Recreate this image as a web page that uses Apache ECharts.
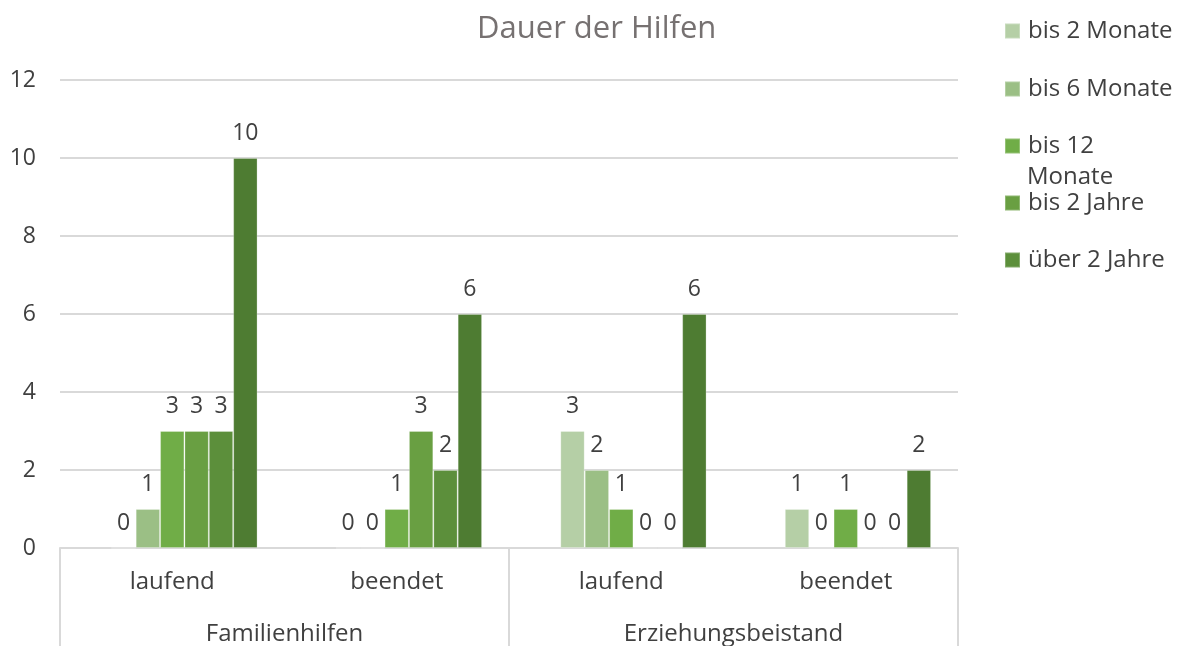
<!DOCTYPE html>
<html>
<head>
<meta charset="utf-8">
<script src="https://cdn.jsdelivr.net/npm/echarts@6/dist/echarts.min.js"></script>
<style>
  html, body { margin: 0; padding: 0; background: #fff; }
  #chart { width: 1183px; height: 646px; }
</style>
</head>
<body>
<div id="chart"></div>
<script>
const categories = ['laufend', 'beendet', 'laufend', 'beendet'];
const groups = ['Familienhilfen', 'Erziehungsbeistand'];
const yTicks = { min: 0, max: 12, interval: 2 };

const leer = ['-', '-', '-', '-'];
const bis2Monate = [0, 0, 3, 1];
const bis6Monate = [1, 0, 2, 0];
const bis12Monate = [3, 1, 1, 1];
const bis2Jahre = [3, 3, 0, 0];
const ueber2Jahre = [3, 2, 0, 0];
const weitere = [10, 6, 6, 2];

const font = 'Open Sans';
const textColor = '#404040';
const gridColor = '#d9d9d9';

const chart = echarts.init(document.getElementById('chart'));

function bar(name, data, color, showLabel) {
    return {
        name: name,
        type: 'bar',
        data: data,
        barGap: 0,
        barCategoryGap: '24%',
        itemStyle: { color: color, borderColor: 'rgba(255,255,255,0.25)', borderWidth: 1 },
        label: {
            show: showLabel,
            position: 'top',
            distance: 13,
            fontFamily: font,
            fontSize: 23,
            color: textColor
        },
        emphasis: { disabled: true }
    };
}

// one legend per entry, Excel lets the wrapped entry overlap the next one
const legendNames = ['bis 2 Monate', 'bis 6 Monate', 'bis 12 Monate', 'bis 2 Jahre', 'über 2 Jahre'];
const legendTops = [14, 72, 129, 186, 243];
const legends = legendNames.map((n, i) => ({
    data: [n],
    left: 999,
    top: legendTops[i],
    orient: 'vertical',
    itemWidth: 15,
    itemHeight: 15,
    icon: 'rect',
    selectedMode: false,
    formatter: name => name === 'bis 12 Monate' ? 'bis 12' : name,
    textStyle: { fontFamily: font, fontSize: 24, color: textColor, padding: [0, 0, 0, 3] }
}));

const option = {
    animation: false,
    title: [
        {
            text: 'Dauer der Hilfen',
            left: 472,
            top: 9,
            textStyle: { fontFamily: font, fontSize: 31, fontWeight: 'normal', color: '#767171' }
        },
        {
            text: 'Monate',
            left: 1022,
            top: 160,
            textStyle: { fontFamily: font, fontSize: 24, fontWeight: 'normal', color: textColor }
        }
    ],
    legend: legends,
    grid: { left: 60, right: 225, top: 80, bottom: 98 },
    xAxis: [
        {
            type: 'category',
            data: categories,
            axisLine: { lineStyle: { color: gridColor, width: 2 } },
            axisTick: { show: false },
            axisLabel: { margin: 22, fontFamily: font, fontSize: 24, color: textColor }
        },
        {
            type: 'category',
            data: groups,
            position: 'bottom',
            axisLine: { show: false },
            axisTick: { show: true, length: 100, lineStyle: { color: gridColor, width: 2 } },
            axisLabel: { margin: 74, fontFamily: font, fontSize: 24, color: textColor }
        }
    ],
    yAxis: {
        type: 'value',
        min: yTicks.min,
        max: yTicks.max,
        interval: yTicks.interval,
        axisLine: { show: false },
        axisTick: { show: false },
        axisLabel: { margin: 24, fontFamily: font, fontSize: 23, color: textColor },
        splitLine: { lineStyle: { color: gridColor, width: 2 } }
    },
    series: [
        bar('', leer, '#ffffff', false),
        bar('bis 2 Monate', bis2Monate, '#b5cfa6', true),
        bar('bis 6 Monate', bis6Monate, '#9bbf85', true),
        bar('bis 12 Monate', bis12Monate, '#70ad47', true),
        bar('bis 2 Jahre', bis2Jahre, '#699f42', true),
        bar('über 2 Jahre', ueber2Jahre, '#5c8f3b', true),
        bar('weitere', weitere, '#4e7c32', true)
    ]
};

chart.setOption(option);
</script>
</body>
</html>
